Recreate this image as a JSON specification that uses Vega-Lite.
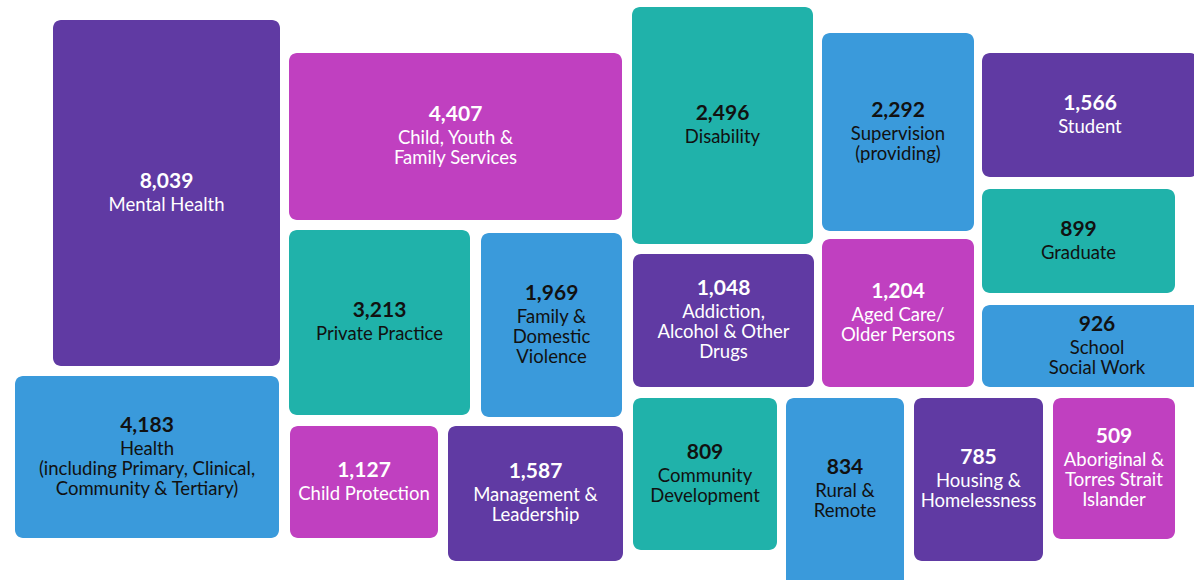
{
  "$schema": "https://vega.github.io/schema/vega-lite/v6.json",
  "width": 1194,
  "height": 580,
  "autosize": {"type": "fit", "contains": "padding"},
  "padding": 0,
  "background": "white",
  "config": {"view": {"stroke": null}},
  "data": {
    "values": [
      {"name": "Mental Health", "value": 8039, "label": "Mental Health", "group": "purple", "x0": 53, "x1": 280, "y0": 20, "y1": 366},
      {"name": "Health", "value": 4183, "label": "Health\n(including Primary, Clinical,\nCommunity & Tertiary)", "group": "blue", "x0": 15, "x1": 279, "y0": 376, "y1": 538},
      {"name": "Child, Youth & Family Services", "value": 4407, "label": "Child, Youth &\nFamily Services", "group": "magenta", "x0": 289, "x1": 622, "y0": 53, "y1": 220},
      {"name": "Private Practice", "value": 3213, "label": "Private Practice", "group": "teal", "x0": 289, "x1": 470, "y0": 230, "y1": 415},
      {"name": "Family & Domestic Violence", "value": 1969, "label": "Family &\nDomestic\nViolence", "group": "blue", "x0": 481, "x1": 622, "y0": 233, "y1": 417},
      {"name": "Child Protection", "value": 1127, "label": "Child Protection", "group": "magenta", "x0": 290, "x1": 438, "y0": 426, "y1": 538},
      {"name": "Management & Leadership", "value": 1587, "label": "Management &\nLeadership", "group": "purple", "x0": 448, "x1": 623, "y0": 426, "y1": 561},
      {"name": "Disability", "value": 2496, "label": "Disability", "group": "teal", "x0": 632, "x1": 813, "y0": 7, "y1": 244},
      {"name": "Supervision (providing)", "value": 2292, "label": "Supervision\n(providing)", "group": "blue", "x0": 822, "x1": 974, "y0": 33, "y1": 231},
      {"name": "Addiction, Alcohol & Other Drugs", "value": 1048, "label": "Addiction,\nAlcohol & Other\nDrugs", "group": "purple", "x0": 633, "x1": 814, "y0": 254, "y1": 387},
      {"name": "Aged Care/Older Persons", "value": 1204, "label": "Aged Care/\nOlder Persons", "group": "magenta", "x0": 822, "x1": 974, "y0": 239, "y1": 387},
      {"name": "Student", "value": 1566, "label": "Student", "group": "purple", "x0": 982, "x1": 1198, "y0": 53, "y1": 177},
      {"name": "Graduate", "value": 899, "label": "Graduate", "group": "teal", "x0": 982, "x1": 1175, "y0": 189, "y1": 293},
      {"name": "School Social Work", "value": 926, "label": "School\nSocial Work", "group": "blue", "x0": 982, "x1": 1212, "y0": 305, "y1": 387},
      {"name": "Community Development", "value": 809, "label": "Community\nDevelopment", "group": "teal", "x0": 633, "x1": 777, "y0": 398, "y1": 550},
      {"name": "Rural & Remote", "value": 834, "label": "Rural &\nRemote", "group": "blue", "x0": 786, "x1": 904, "y0": 398, "y1": 590},
      {"name": "Housing & Homelessness", "value": 785, "label": "Housing &\nHomelessness", "group": "purple", "x0": 914, "x1": 1043, "y0": 398, "y1": 561},
      {"name": "Aboriginal & Torres Strait Islander", "value": 509, "label": "Aboriginal &\nTorres Strait\nIslander", "group": "magenta", "x0": 1053, "x1": 1175, "y0": 398, "y1": 539}
    ]
  },
  "transform": [
    {"calculate": "(datum.x0 + datum.x1) / 2", "as": "cx"},
    {"calculate": "(datum.y0 + min(datum.y1, 580)) / 2", "as": "cy"},
    {"calculate": "length(split(datum.label, '\\n'))", "as": "n"},
    {"calculate": "datum.cy - (23 + 20 * (datum.n - 1)) / 2", "as": "vy"},
    {"calculate": "datum.vy + 23", "as": "ly"}
  ],
  "layer": [
    {
      "mark": {"type": "rect", "cornerRadius": 8, "clip": true},
      "encoding": {
        "x": {"field": "x0", "type": "quantitative", "scale": {"domain": [0, 1194], "nice": false, "zero": false}, "axis": null},
        "x2": {"field": "x1"},
        "y": {"field": "y0", "type": "quantitative", "scale": {"domain": [0, 580], "nice": false, "zero": false, "reverse": true}, "axis": null},
        "y2": {"field": "y1"},
        "color": {
          "field": "group", "type": "nominal",
          "scale": {"domain": ["purple", "magenta", "teal", "blue"], "range": ["#603AA3", "#C040C0", "#20B2AA", "#3A9ADB"]},
          "legend": null
        }
      }
    },
    {
      "mark": {"type": "text", "font": "Lato", "fontSize": 21, "fontWeight": "bold", "baseline": "middle", "align": "center"},
      "encoding": {
        "x": {"field": "cx", "type": "quantitative"},
        "y": {"field": "vy", "type": "quantitative"},
        "text": {"field": "value", "type": "quantitative", "format": ","},
        "color": {"condition": {"test": "datum.group === 'teal' || datum.group === 'blue'", "value": "#111111"}, "value": "#ffffff"}
      }
    },
    {
      "mark": {"type": "text", "font": "Lato", "fontSize": 18.5, "baseline": "middle", "align": "center", "lineBreak": "\n", "lineHeight": 20},
      "encoding": {
        "x": {"field": "cx", "type": "quantitative"},
        "y": {"field": "ly", "type": "quantitative"},
        "text": {"field": "label", "type": "nominal"},
        "color": {"condition": {"test": "datum.group === 'teal' || datum.group === 'blue'", "value": "#111111"}, "value": "#ffffff"}
      }
    }
  ]
}
